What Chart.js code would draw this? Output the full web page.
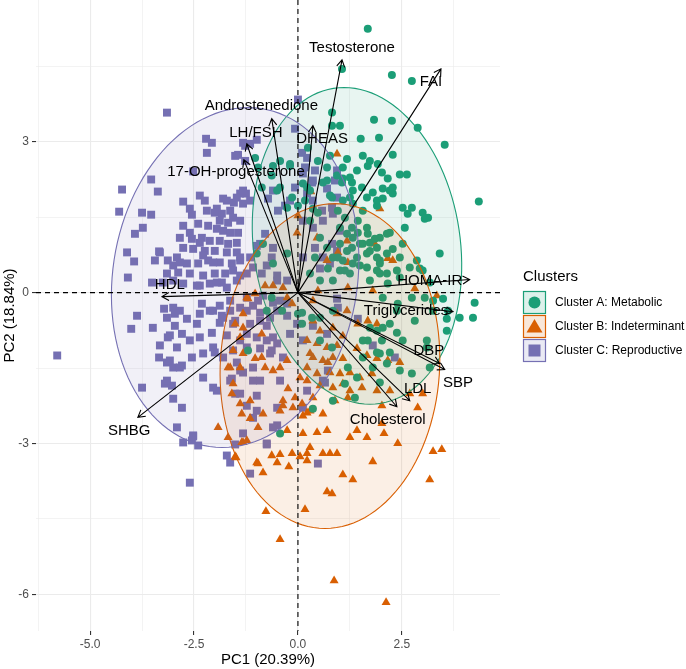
<!DOCTYPE html>
<html>
<head>
<meta charset="utf-8">
<script src="https://cdn.jsdelivr.net/npm/chart.js@4"></script>
<style>
html, body { margin: 0; padding: 0; background: #fff; }
#wrap { width: 686px; height: 669px; }
</style>
</head>
<body>
<div id="wrap"><canvas id="chart" width="686" height="669"></canvas></div>
<script>
// cluster scores (PC1, PC2)
const clusterA = [
  [1.68,5.25],[1.06,4.45],[2.26,4.33],[2.74,4.21],[0.82,3.58],[1.01,3.32],[0.82,3.32],[1.83,3.44],[2.26,3.42],[2.88,3.28],
  [3.53,2.94],[1.51,3.06],[1.95,3.08],[2.28,2.74],[1.56,2.72],[0.77,2.72],[1.18,2.66],[1.42,2.43],[1.68,2.52],[1.92,2.56],
  [2.02,2.39],[2.16,2.27],[2.45,2.35],[2.62,2.35],[2.28,2.09],[2.28,1.97],[2.04,2.07],[1.80,1.99],[1.66,1.89],[1.54,2.09],
  [1.30,2.19],[1.06,2.19],[0.94,2.33],[0.70,2.49],[0.60,2.19],[0.48,2.62],[0.24,2.88],[-0.19,2.52],[-0.43,2.09],[-0.87,2.09],
  [0.29,2.03],[0.77,1.93],[1.08,1.83],[1.32,1.77],[1.90,1.73],[2.52,1.69],[2.74,1.69],[3.00,1.59],[3.13,1.49],[4.35,1.81],
  [0.17,1.83],[0.36,1.67],[1.73,2.62],[2.21,2.03],[1.90,1.83],[2.04,1.87],[3.05,1.47],[2.64,1.57],[2.57,1.29],[2.21,1.19],
  [1.97,1.09],[2.28,0.87],[2.52,0.97],[2.14,0.78],[2.45,0.70],[3.41,0.78],[1.97,0.58],[2.38,0.44],[2.69,0.50],[2.93,0.48],
  [1.56,1.63],[1.44,1.43],[1.66,1.29],[1.32,1.09],[1.56,0.97],[1.73,0.83],[1.90,0.89],[1.42,0.70],[1.18,0.83],[1.01,0.97],
  [1.08,0.64],[1.49,0.54],[1.25,0.38],[1.01,0.44],[0.84,0.70],[0.70,0.89],[0.53,1.09],[0.29,1.43],[0.48,1.59],[1.13,1.49],
  [0.96,1.63],[0.82,1.89],[1.25,1.89],[1.32,2.03],[0.70,2.23],[1.08,2.27],[1.25,2.29],[1.08,2.49],[0.22,2.09],[1.73,0.24],
  [1.97,0.38],[2.16,0.18],[0.84,0.24],[0.53,0.24],[0.29,0.38],[2.14,1.17],[1.73,0.99],[1.97,0.64],[2.86,0.64],[3.00,0.44],
  [3.17,0.20],[3.49,-0.12],[4.25,-0.20],[4.21,-0.50],[3.89,-0.50],[3.61,-0.36],[3.25,-0.16],[3.05,-0.10],[2.74,-0.10],[2.40,-0.22],
  [2.04,-0.10],[2.38,-0.36],[2.81,-0.56],[2.21,-0.62],[1.90,-0.76],[1.68,-0.95],[2.02,-0.95],[2.38,-0.80],[2.52,-0.95],[3.10,-1.09],
  [3.17,-1.49],[2.45,-1.55],[2.74,-1.61],[1.97,-1.21],[2.14,-1.41],[1.56,-1.29],[1.80,-1.49],[1.20,-1.49],[1.42,-1.69],[1.97,-1.79],
  [1.37,-2.09],[1.13,-1.81],[0.53,-0.95],[0.82,-1.09],[-0.43,-2.80],[0.84,-2.15],[0.34,-0.50],[0.00,-0.42],[-0.38,-0.36],[-0.75,-0.36],
  [-0.63,-0.10],[3.58,-0.52],[3.25,-0.36],[3.58,-0.76],[3.10,-0.95],[2.04,-0.70],[1.73,-0.70],[1.56,-0.95],[1.90,-1.19],[2.21,-1.19],
  [0.36,-2.31],[0.84,-0.36],[0.53,-0.50],[-1.03,2.68],[-0.96,2.49],[-0.60,2.52],[-0.43,2.62],[-0.19,2.56],[-0.63,2.33],[-0.50,2.03],
  [-0.14,1.89],[-0.26,1.69],[0.00,1.73],[0.12,2.17],[-0.99,0.78],[-0.60,0.58],[-0.26,0.78],[-0.84,0.97],[0.10,-0.40],[0.10,-0.62],
  [-1.20,-1.15],[1.30,1.29],[1.44,1.19],[1.18,1.17],[1.01,1.29],[1.68,1.17],[1.85,1.07],[1.49,0.97],[1.30,0.89],[1.66,0.78],
  [1.90,0.70],[0.96,0.70],[1.32,0.58],[1.66,0.50],[1.13,0.44],[0.72,0.48],[0.41,0.70],[1.90,0.44],[2.14,0.38],[2.45,0.30]
];
const clusterB = [
  [0.12,-2.80],[0.46,-2.78],[0.70,-2.74],[1.42,-2.74],[2.07,-2.80],[1.25,-2.88],[2.40,-3.00],[3.25,-3.16],[3.46,-3.12],[3.17,-3.72],
  [0.29,-3.08],[0.60,-3.20],[0.77,-3.20],[0.94,-3.20],[0.05,-3.26],[0.22,-3.34],[-0.14,-3.20],[-0.43,-3.22],[-0.63,-3.24],[-0.50,-3.38],
  [-0.96,-3.40],[-0.84,-3.58],[-0.22,-3.46],[1.80,-3.36],[1.08,-3.62],[1.32,-3.72],[0.70,-3.96],[0.82,-4.00],[0.17,-4.31],[-0.77,-4.35],
  [-0.43,-4.91],[0.87,-5.73],[2.12,-6.16],[-1.32,-2.98],[-1.49,-3.28],[3.34,-0.06],[0.36,-0.16],[0.94,-0.42],[1.18,-0.36],[1.44,-0.62],
  [1.68,-0.56],[1.90,-0.62],[0.36,-0.56],[0.53,-0.76],[0.84,-0.70],[1.08,-0.86],[0.22,-0.95],[0.46,-1.01],[0.70,-1.09],[0.94,-1.05],
  [1.42,-1.11],[1.66,-1.25],[1.90,-1.31],[2.16,-1.35],[2.45,-1.39],[0.36,-1.29],[0.60,-1.35],[0.84,-1.29],[1.08,-1.31],[0.72,-1.39],
  [0.22,-1.49],[0.46,-1.61],[0.77,-1.59],[1.01,-1.61],[1.25,-1.59],[1.49,-1.69],[1.78,-1.61],[0.22,-1.75],[0.53,-1.85],[0.84,-1.89],
  [1.08,-1.81],[1.25,-1.95],[1.54,-1.89],[1.90,-1.95],[2.21,-1.95],[2.69,-2.01],[3.00,-2.01],[0.89,-2.15],[1.20,-2.09],[2.02,-2.25],
  [2.88,-2.29],[0.36,-2.09],[0.22,-2.39],[1.66,-2.88],[2.02,-2.60],[0.22,-3.20],[-1.23,-0.10],[-1.03,-0.02],[-1.32,-0.42],[-1.51,-0.62],
  [-0.87,-0.82],[-0.26,-0.10],[-0.14,-0.22],[-0.60,-1.55],[-0.43,-1.49],[-0.26,-1.35],[0.05,-1.69],[-0.24,-1.91],[-0.07,-2.09],[-0.36,-2.25],
  [-0.12,-2.29],[0.10,-2.21],[0.12,-2.45],[-0.43,-2.35],[-0.96,-2.68],[-1.15,-2.50],[-1.35,-2.41],[-1.39,-2.21],[-1.59,-2.01],[-1.56,-1.81],
  [-1.63,-1.49],[-1.03,-1.31],[-0.79,-1.49],[-1.92,-2.68],[-1.68,-2.88],[-0.99,-3.38],[0.96,0.80],[1.20,0.60],[1.85,0.97],[2.28,0.64],
  [0.29,-1.21],[-1.32,-1.21],[-0.36,-2.15],[0.29,-2.35],[0.60,-2.41],[-1.15,-2.15],[-0.84,-2.41],[-0.26,-2.74],[-0.87,-1.29],[-1.56,-1.15],
  [2.81,0.08],[0.94,2.76],[0.31,2.01],[1.97,1.67],[2.16,0.68],[1.18,1.03],[0.46,1.09],[0.00,1.53],[-0.02,1.19],[-0.79,0.14],
  [-0.60,0.14],[-0.36,0.10],[-1.20,-0.12],[-1.32,-0.70],[-1.39,-0.89],[-1.68,-1.49],[-1.39,-1.49],[-1.23,-2.94],[-1.51,-3.26],[-1.35,-2.98],
  [0.70,0.64],[1.20,0.10],[1.80,0.04],[0.48,0.04]
];
const clusterC = [
  [-3.15,3.58],[-2.21,3.06],[-2.07,2.98],[-2.19,2.78],[-1.32,2.98],[-1.15,2.96],[-0.99,3.04],[-1.44,2.74],[-1.27,2.62],[-2.52,2.41],
  [-3.53,2.25],[-4.23,2.05],[-3.37,2.01],[-4.30,1.61],[-3.75,1.59],[-3.53,1.55],[-2.76,1.81],[-2.36,1.93],[-2.24,1.83],[-1.80,1.87],
  [-1.54,1.79],[-1.39,1.97],[-1.25,1.97],[-2.60,1.67],[-2.55,1.55],[-1.95,1.67],[-1.83,1.57],[-2.19,1.63],[-2.00,1.59],[-1.63,1.63],
  [-1.47,1.89],[-1.71,1.83],[-1.88,1.43],[-1.68,1.39],[-1.56,1.49],[-1.39,1.43],[-2.76,1.33],[-2.60,1.19],[-2.40,1.37],[-2.16,1.33],
  [-1.95,1.27],[-1.80,1.23],[-1.63,1.19],[-1.44,1.19],[-2.84,1.09],[-2.55,1.07],[-2.31,1.09],[-2.12,1.03],[-1.88,1.03],[-1.68,0.97],
  [-1.47,0.99],[-2.76,0.89],[-2.52,0.87],[-2.24,0.83],[-2.00,0.83],[-1.71,0.80],[-1.47,0.80],[-3.44,0.64],[-3.13,0.64],[-2.91,0.70],
  [-3.32,0.80],[-3.00,0.54],[-2.67,0.58],[-2.40,0.58],[-2.16,0.64],[-1.88,0.60],[-1.59,0.58],[-1.39,0.64],[-3.15,0.38],[-2.88,0.40],
  [-2.60,0.38],[-2.28,0.34],[-2.00,0.38],[-1.75,0.38],[-3.51,0.20],[-3.25,0.20],[-2.76,0.18],[-2.43,0.14],[-2.12,0.18],[-1.83,0.20],
  [-1.47,0.24],[-1.23,0.38],[-1.15,0.70],[-1.08,0.50],[-0.87,0.38],[-0.75,0.54],[-0.63,0.70],[-0.50,0.34],[-0.26,0.24],[-0.60,0.89],
  [-0.91,0.97],[-3.73,1.29],[-3.92,1.17],[-4.11,0.80],[-3.94,0.62],[-4.09,0.30],[-3.34,0.82],[-2.84,0.60],[-2.36,0.99],[-2.28,0.74],
  [-2.04,0.60],[-1.56,0.44],[-1.39,0.34],[-1.95,0.20],[-1.71,0.10],[-2.36,0.14],[-3.00,0.24],[-3.22,-0.32],[-3.00,-0.30],[-2.84,-0.36],
  [-3.87,-0.46],[-3.49,-0.70],[-4.01,-0.72],[-3.15,-0.50],[-2.96,-0.66],[-2.67,-0.52],[-2.36,-0.42],[-2.04,-0.36],[-1.83,-0.46],[-1.63,-0.36],
  [-1.39,-0.30],[-1.51,-0.56],[-2.43,-0.62],[-2.79,-0.82],[-2.60,-0.95],[-2.36,-0.89],[-3.32,-1.05],[-3.13,-0.89],[-2.91,-1.09],[-3.34,-1.29],
  [-3.15,-1.39],[-3.00,-1.49],[-2.79,-1.45],[-2.55,-1.29],[-2.28,-1.21],[-2.04,-1.09],[-1.80,-1.29],[-1.56,-1.15],[-1.39,-0.95],[-3.20,-1.81],
  [-3.03,-1.85],[-3.00,-2.11],[-2.79,-2.29],[-3.75,-1.89],[-5.79,-1.25],[-2.28,-1.69],[-2.04,-1.89],[-1.63,-1.75],[-1.39,-2.01],[-2.55,-2.94],
  [-2.96,-0.42],[-2.31,-0.22],[-2.12,-0.36],[-1.88,-0.26],[-1.63,-0.16],[-1.80,-0.50],[-2.07,-0.80],[-1.88,-0.60],[-1.56,-0.62],[-1.23,-0.36],
  [-1.08,-0.26],[-0.96,-0.16],[-1.15,-0.62],[-0.91,-0.56],[-0.67,-0.50],[-0.60,-0.20],[-0.43,-0.16],[-0.26,-0.22],[-1.23,-0.82],[-0.99,-0.89],
  [-0.75,-0.95],[-0.50,-1.01],[-0.63,-1.15],[-0.91,-1.11],[-1.23,-1.09],[-1.71,-0.85],[-2.00,-1.19],[-3.08,-0.85],[-3.08,-1.35],[-2.84,-1.49],
  [-3.15,-1.75],[-2.91,-2.68],[-2.52,-2.84],[-2.76,-2.98],[-2.40,-3.04],[-1.95,-1.95],[-1.59,-1.71],[-1.32,-1.59],[-1.08,-1.75],[-1.47,-1.39],
  [-1.23,-2.25],[-0.99,-2.35],[-0.50,-2.64],[-0.75,-3.00],[-1.71,-3.24],[-1.63,-3.38],[-1.15,-3.60],[-2.60,-3.78],[0.12,-0.95],[-0.02,-0.62],
  [-0.19,-0.82],[-2.52,-2.86],[-1.51,-3.02],[0.00,3.84],[-0.07,3.26],[0.10,2.78],[0.22,2.68],[0.12,2.37],[0.41,2.43],[0.34,2.19],
  [0.22,1.97],[-0.07,2.09],[-0.19,1.83],[-0.31,1.73],[-0.60,2.03],[-0.72,1.87],[-1.32,2.03],[-1.15,1.83],[-1.51,2.72],[-1.27,2.92],
  [-0.48,1.63],[0.17,2.49],[0.36,2.23],[0.94,2.43],[0.89,2.23],[0.70,2.07],[0.94,1.89],[0.82,1.69],[0.58,1.63],[0.36,1.83],
  [0.12,1.43],[0.36,1.29],[0.60,1.43],[0.84,1.57],[1.01,1.23],[0.82,0.97],[0.60,0.70],[0.77,0.58],[0.53,0.48],[0.94,0.83],
  [0.41,0.89],[0.12,0.70],[-1.32,1.77],[-0.79,1.17],[-0.99,0.93],[-1.39,0.70],[-0.50,0.24],[-0.84,-0.06],[-1.23,-0.10],[-0.91,-0.40],
  [-0.50,-0.36],[-0.26,-0.46],[-0.75,-0.66],[-0.60,-0.89],[-0.36,-1.29],[-0.67,-1.21],[-1.08,-1.49],[-1.39,-1.55],[-0.91,-1.75],[-0.43,-1.75],
  [-1.51,-2.01],[-0.99,-2.05],[-0.50,-2.29],[-1.08,-2.49],[-0.60,-2.68],[-1.32,-2.80],[0.94,-0.12],[0.70,-0.82],[2.33,-1.29],[0.72,-1.55],
  [0.65,-1.79],[0.96,-0.30],[1.44,-0.52],[0.36,-0.66],[1.80,-1.05],[0.60,-1.75],[0.22,-1.95],[0.12,-2.29],[0.48,-3.40],[-0.75,-3.02]
];

const clusterNames = ['Cluster A: Metabolic', 'Cluster B: Indeterminant', 'Cluster C: Reproductive'];
const clusterColors = ['#1B9E77', '#D95F02', '#7570B3'];

// confidence ellipses: centre, semi-axis to the top point, half width through the centre
const ellipseCx = [1.42, 0.77, -1.51];
const ellipseCy = [0.93, -1.46, 0.30];
const ellipseUx = [-0.31, 0.12, 0.31];
const ellipseUy = [3.15, 3.23, 3.38];
const ellipseHalfWidth = [2.50, 2.64, 2.96];

// variable loadings (arrow tips) and where their names sit
const loadingNames = ['Testosterone', 'FAI', 'Androstenedione', 'LH/FSH', 'DHEAS', '17-OH-progesterone', 'HDL',
  'SHBG', 'HOMA-IR', 'Triglycerides', 'DBP', 'SBP', 'LDL', 'Cholesterol'];
const loadingX = [1.06, 3.44, -0.63, -1.23, 0.36, -1.30, -3.27, -3.85, 4.13, 3.73, 3.41, 3.53, 2.69, 2.38];
const loadingY = [4.63, 4.45, 3.46, 2.96, 3.32, 2.64, -0.08, -2.48, 0.26, -0.38, -1.41, -1.53, -2.15, -2.27];
const labelX = [1.30, 3.20, -0.88, -1.01, 0.58, -1.49, -3.08, -4.06, 3.17, 2.60, 3.15, 3.85, 2.88, 2.16];
const labelY = [4.87, 4.19, 3.72, 3.18, 3.05, 2.41, 0.16, -2.74, 0.24, -0.36, -1.15, -1.79, -1.91, -2.53];

// dashed reference lines
const refX = [0];
const refY = [0];

// axes
const xTicks = [-6.25, -5, -3.75, -2.5, -1.25, 0, 1.25, 2.5, 3.75];
const xMajor = [-5, -2.5, 0, 2.5];
const yTicks = [-6, -4.5, -3, -1.5, 0, 1.5, 3, 4.5];
const yMajor = [-6, -3, 0, 3];

const FONT = 'Liberation Sans, Arial, Helvetica, sans-serif';
Chart.defaults.font.family = FONT;

function alpha(hex, a) {
  const n = parseInt(hex.slice(1), 16);
  return 'rgba(' + (n >> 16) + ',' + ((n >> 8) & 255) + ',' + (n & 255) + ',' + a + ')';
}

function ellipsePath(ctx, xs, ys, i) {
  ctx.beginPath();
  for (let k = 0; k <= 120; k++) {
    const t = k / 120 * Math.PI * 2;
    const vx = ellipseCx[i] + ellipseUx[i] * Math.cos(t) + ellipseHalfWidth[i] * Math.sin(t);
    const vy = ellipseCy[i] + ellipseUy[i] * Math.cos(t);
    const px = xs.getPixelForValue(vx), py = ys.getPixelForValue(vy);
    if (k === 0) ctx.moveTo(px, py); else ctx.lineTo(px, py);
  }
  ctx.closePath();
}

const overlay = {
  id: 'overlay',
  afterDatasetsDraw(chart) {
    const {ctx, chartArea, scales: {x, y}} = chart;
    ctx.save();
    ctx.beginPath();
    ctx.rect(chartArea.left, chartArea.top, chartArea.width, chartArea.height);
    ctx.clip();

    //ellipses over the points
    for (let i = 0; i < clusterNames.length; i++) {
      ellipsePath(ctx, x, y, i);
      ctx.fillStyle = alpha(clusterColors[i], 0.1);
      ctx.fill();
      ctx.strokeStyle = clusterColors[i];
      ctx.lineWidth = 1.1;
      ctx.stroke();
    }

    //dashed zero lines
    ctx.strokeStyle = '#000';
    ctx.lineWidth = 1.1;
    ctx.setLineDash([5, 4]);
    refX.forEach(v => {
      const px = x.getPixelForValue(v);
      ctx.beginPath(); ctx.moveTo(px, chartArea.top); ctx.lineTo(px, chartArea.bottom); ctx.stroke();
    });
    refY.forEach(v => {
      const py = y.getPixelForValue(v);
      ctx.beginPath(); ctx.moveTo(chartArea.left, py); ctx.lineTo(chartArea.right, py); ctx.stroke();
    });
    ctx.setLineDash([]);

    //loading arrows
    const ox = x.getPixelForValue(0), oy = y.getPixelForValue(0);
    ctx.lineWidth = 1.1;
    for (let i = 0; i < loadingNames.length; i++) {
      const tx = x.getPixelForValue(loadingX[i]), ty = y.getPixelForValue(loadingY[i]);
      const ang = Math.atan2(ty - oy, tx - ox);
      const len = 8, spread = Math.PI / 6;
      ctx.beginPath();
      ctx.moveTo(ox, oy);
      ctx.lineTo(tx, ty);
      ctx.moveTo(tx - len * Math.cos(ang - spread), ty - len * Math.sin(ang - spread));
      ctx.lineTo(tx, ty);
      ctx.lineTo(tx - len * Math.cos(ang + spread), ty - len * Math.sin(ang + spread));
      ctx.stroke();
    }
    ctx.restore();

    //loading names
    ctx.save();
    ctx.fillStyle = '#000';
    ctx.font = '15px ' + FONT;
    ctx.textAlign = 'center';
    ctx.textBaseline = 'middle';
    for (let i = 0; i < loadingNames.length; i++) {
      ctx.fillText(loadingNames[i], x.getPixelForValue(labelX[i]), y.getPixelForValue(labelY[i]));
    }
    ctx.restore();
  },
  afterDraw(chart) {
    const ctx = chart.ctx;
    const lx = chart.chartArea.right + 23;
    ctx.save();
    ctx.fillStyle = '#000';
    ctx.textAlign = 'left';
    ctx.textBaseline = 'middle';
    ctx.font = '15px ' + FONT;
    ctx.fillText('Clusters', lx, 277);
    ctx.font = '12px ' + FONT;
    const styles = ['circle', 'triangle', 'rect'];
    for (let i = 0; i < clusterNames.length; i++) {
      const top = 291 + i * 24;
      ctx.fillStyle = '#fff';
      ctx.fillRect(lx, top, 23, 23);
      ctx.fillStyle = alpha(clusterColors[i], 0.15);
      ctx.fillRect(lx, top, 23, 23);
      ctx.strokeStyle = clusterColors[i];
      ctx.lineWidth = 1.2;
      ctx.strokeRect(lx + 0.5, top + 0.5, 22, 22);
      const cx = lx + 11.5, cy = top + 11.5;
      ctx.fillStyle = clusterColors[i];
      ctx.beginPath();
      if (styles[i] === 'circle') {
        ctx.arc(cx, cy, 6, 0, Math.PI * 2);
      } else if (styles[i] === 'triangle') {
        ctx.moveTo(cx, cy - 7.5);
        ctx.lineTo(cx + 8, cy + 6);
        ctx.lineTo(cx - 8, cy + 6);
        ctx.closePath();
      } else {
        ctx.rect(cx - 6, cy - 6, 12, 12);
      }
      ctx.fill();
      ctx.fillStyle = '#000';
      ctx.fillText(clusterNames[i], lx + 32, cy + 0.5);
    }
    ctx.restore();
  }
};

const isIn = (arr, v) => arr.some(m => Math.abs(m - v) < 1e-9);

const makePoints = arr => arr.map(p => ({x: p[0], y: p[1]}));

new Chart(document.getElementById('chart'), {
  type: 'scatter',
  data: {
    datasets: [
      {label: clusterNames[0], data: makePoints(clusterA), pointStyle: 'circle', pointRadius: 4,
        backgroundColor: clusterColors[0], borderWidth: 0},
      {label: clusterNames[1], data: makePoints(clusterB), pointStyle: 'triangle', pointRadius: 5.2,
        backgroundColor: clusterColors[1], borderWidth: 0},
      {label: clusterNames[2], data: makePoints(clusterC), pointStyle: 'rect', pointRadius: 5.6,
        backgroundColor: clusterColors[2], borderWidth: 0}
    ]
  },
  options: {
    responsive: false,
    animation: false,
    devicePixelRatio: 1,
    events: [],
    layout: {autoPadding: false, padding: {left: 0, right: 186, top: 0, bottom: 0}},
    plugins: {legend: {display: false}, tooltip: {enabled: false}},
    scales: {
      x: {
        type: 'linear', min: -6.30, max: 4.86,
        afterBuildTicks: s => { s.ticks = xTicks.map(v => ({value: v})); },
        afterFit: s => { s.height = 38; s.paddingLeft = 0; s.paddingRight = 0; },
        border: {display: false},
        grid: {
          color: '#EBEBEB',
          lineWidth: c => isIn(xMajor, c.tick.value) ? 1.1 : 0.6,
          tickColor: c => isIn(xMajor, c.tick.value) ? '#333333' : 'rgba(0,0,0,0)',
          tickLength: 4,
          tickWidth: 1.1
        },
        ticks: {
          autoSkip: false, maxRotation: 0, padding: 2,
          color: '#4D4D4D', font: {size: 12},
          callback: v => isIn(xMajor, v) ? v.toFixed(1) : ''
        },
        title: {display: true, text: 'PC1 (20.39%)', color: '#000', font: {size: 15}, padding: {top: 0, bottom: 0}}
      },
      y: {
        type: 'linear', min: -6.73, max: 5.82,
        afterBuildTicks: s => { s.ticks = yTicks.map(v => ({value: v})); },
        afterFit: s => { s.width = 36; s.paddingTop = 0; s.paddingBottom = 0; },
        border: {display: false},
        grid: {
          color: '#EBEBEB',
          lineWidth: c => isIn(yMajor, c.tick.value) ? 1.1 : 0.6,
          tickColor: c => isIn(yMajor, c.tick.value) ? '#333333' : 'rgba(0,0,0,0)',
          tickLength: 4,
          tickWidth: 1.1
        },
        ticks: {
          autoSkip: false, padding: 3,
          color: '#4D4D4D', font: {size: 12},
          callback: v => isIn(yMajor, v) ? String(v) : ''
        },
        title: {display: true, text: 'PC2 (18.84%)', color: '#000', font: {size: 15}, padding: {top: 1, bottom: 0}}
      }
    }
  },
  plugins: [overlay]
});
</script>
</body>
</html>
